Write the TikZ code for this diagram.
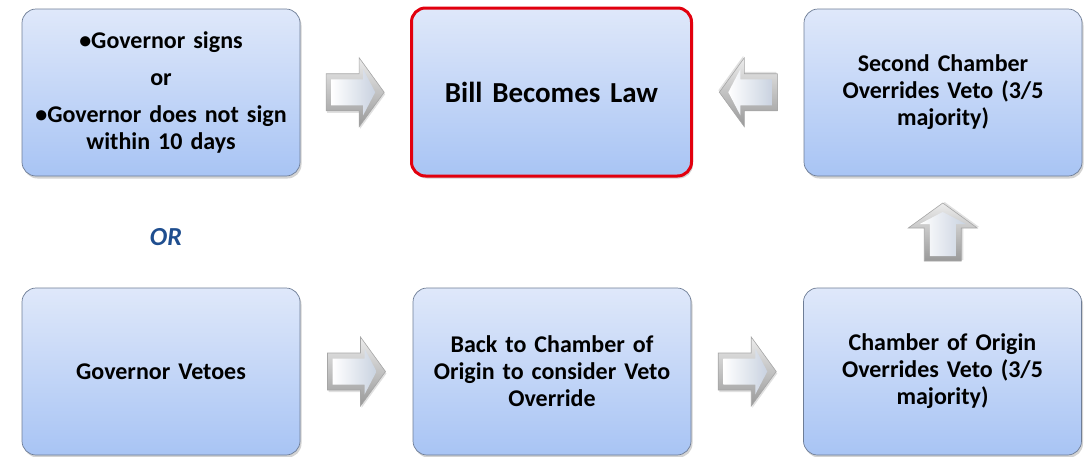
\documentclass[tikz,border=0pt]{standalone}
\usepackage{fontspec}
\setmainfont{Carlito}
\usetikzlibrary{calc,shadows}

\definecolor{boxtop}{HTML}{DFE8FA}
\definecolor{boxbot}{HTML}{A8C4F4}
\definecolor{boxline}{HTML}{6E7D96}
\definecolor{lawred}{HTML}{E2000E}
\definecolor{orblue}{HTML}{1F4E8F}
\definecolor{facetint}{HTML}{C9D2E0}

\tikzset{
  blockarrow/.pic={
    % shadow
    \fill[black, opacity=0.12] (-28,-16.5) -- (5,-16.5) -- (5,-32.5) -- (30,2) -- (5,36.5) -- (5,20.5) -- (-28,20.5) -- cycle;
    % bevel
    \shade[top color=gray!15, bottom color=gray!80, draw=gray!70, line width=0.6pt]
      (-29,-18.5) -- (4,-18.5) -- (4,-34.5) -- (29,0) -- (4,34.5) -- (4,18.5) -- (-29,18.5) -- cycle;
    % face
    \shade[left color=white, right color=facetint]
      (-24,-13) -- (8,-13) -- (8,-23) -- (20,0) -- (8,23) -- (8,13) -- (-24,13) -- cycle;
  }
}

\begin{document}
\begin{tikzpicture}[x=1pt, y=-1pt]
\tikzstyle{stepbox}=[rectangle, rounded corners=14pt, draw=boxline, line width=0.7pt,
  top color=boxtop, bottom color=boxbot, minimum width=278pt, minimum height=167pt,
  text width=268pt, align=center, font=\fontsize{24}{27}\selectfont\bfseries,
  drop shadow={opacity=0.35, shadow xshift=1.5pt, shadow yshift=-2.5pt}]
\tikzstyle{lawbox}=[stepbox, draw=lawred, line width=3pt, minimum width=280pt,
  minimum height=168pt, font=\fontsize{29}{32}\selectfont\bfseries]
\tikzstyle{ortext}=[text=orblue, font=\fontsize{26}{30}\selectfont\bfseries\itshape]

\useasboundingbox (0,0) rectangle (1089,456);

%top row
\node[stepbox] (signs) at (161,92.5) {\textbullet Governor signs\\[10pt] or\\[10pt] \textbullet Governor does not sign\\ within 10 days};
\node[lawbox] (law) at (551.5,92) {Bill Becomes Law};
\node[stepbox] (second) at (943,92.5) {Second Chamber\\ Overrides Veto (3/5\\ majority)};

%bottom row
\node[stepbox] (vetoes) at (161,371.5) {Governor Vetoes};
\node[stepbox] (back) at (552,371.5) {Back to Chamber of\\ Origin to consider Veto\\ Override};
\node[stepbox] (origin) at (942.5,371.5) {Chamber of Origin\\ Overrides Veto (3/5\\ majority)};

\node[ortext] (or) at (166,237) {OR};

%arrows
\pic at ($(signs.east)!0.5!(law.west)$) {blockarrow};
\pic[rotate=180] at ($(second.west)!0.5!(law.east)$) {blockarrow};
\pic[rotate=90] at ($(origin.north)!0.5!(second.south)$) {blockarrow};
\pic at ($(vetoes.east)!0.5!(back.west)$) {blockarrow};
\pic at ($(back.east)!0.5!(origin.west)$) {blockarrow};
\end{tikzpicture}
\end{document}
